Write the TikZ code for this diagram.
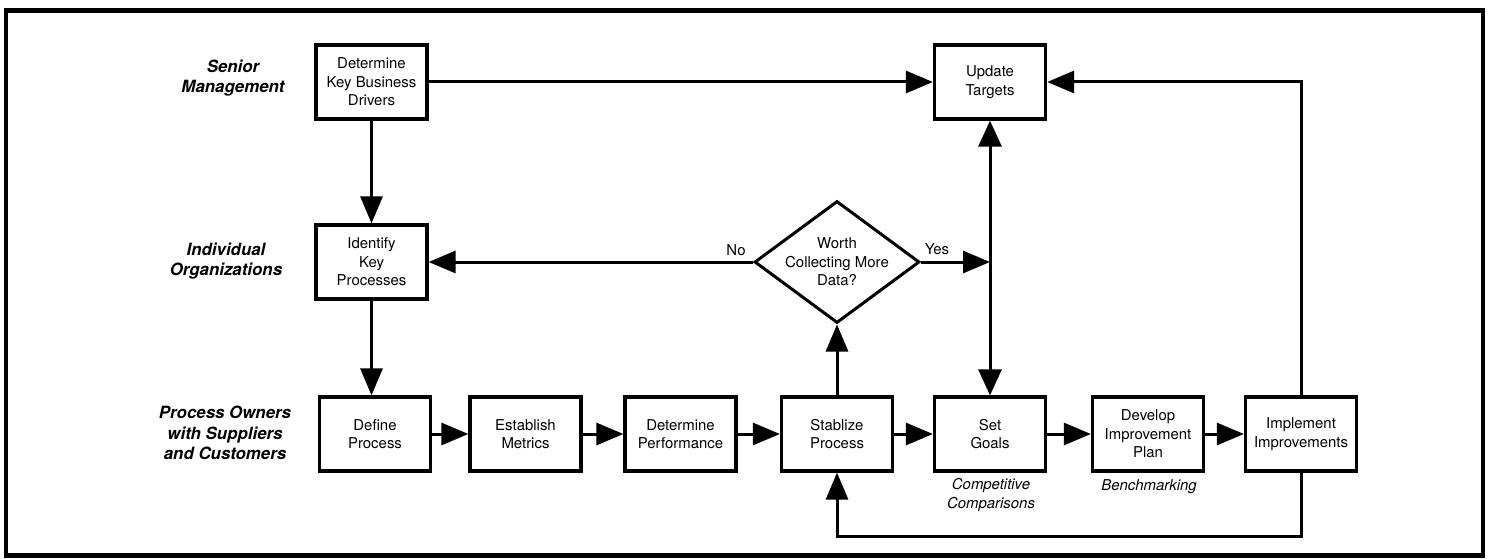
\documentclass[tikz,border=0pt]{standalone}
\usepackage{fontspec}
\setmainfont{TeX Gyre Heros}
\usepackage{tikz}
\usetikzlibrary{arrows.meta}
\usetikzlibrary{shapes.geometric}

\begin{document}
\begin{tikzpicture}[x=0.2mm,y=-0.2mm,
	box/.style={draw,line width=0.65mm,fill=white,minimum width=22.2mm,minimum height=14.8mm,inner sep=1pt,align=center,font=\fontsize{8.5}{10.5}\selectfont},
	decision/.style={diamond,draw,line width=0.6mm,fill=white,minimum width=33mm,minimum height=24.4mm,inner sep=-12pt,align=center,font=\fontsize{8.5}{10.5}\selectfont},
	lane/.style={align=center,font=\fontsize{9.6}{11.6}\selectfont\bfseries\itshape},
	note/.style={align=center,font=\fontsize{8.5}{11}\selectfont\itshape},
	answer/.style={font=\fontsize{8.5}{10.5}\selectfont},
	arr/.style={line width=0.6mm,-{Triangle[length=5.4mm,width=4.4mm]}},
	arrboth/.style={line width=0.6mm,{Triangle[length=5.2mm,width=4.6mm]}-{Triangle[length=5.2mm,width=4.6mm]}}]
		\useasboundingbox (0,0) rectangle (1489,558);
		\draw[line width=0.9mm] (6,10.5) rectangle (1483,555.5);
		\node[lane] (sen) at (233,78) {Senior\\Management};
		\node[lane] (ind) at (226,261) {Individual\\Organizations};
		\node[lane] (own) at (225,433) {Process Owners\\with Suppliers\\and Customers};
		\node[box] (drv) at (371.5,82) {Determine\\Key Business\\Drivers};
		\node[box] (upd) at (990,82) {Update\\Targets};
		\node[box] (idn) at (371.5,262) {Identify\\Key\\Processes};
		\node[decision] (dat) at (837,262) {Worth\\Collecting More\\Data?};
		\node[box] (def) at (375,434) {Define\\Process};
		\node[box] (met) at (525.5,434) {Establish\\Metrics};
		\node[box] (prf) at (680.5,434) {Determine\\Performance};
		\node[box] (stb) at (837,434) {Stablize\\Process};
		\node[box] (gol) at (990,434) {Set\\Goals};
		\node[box] (pln) at (1148,434) {Develop\\Improvement\\Plan};
		\node[box] (imp) at (1301,434) {Implement\\Improvements};
		\node[note] (cmp) at (991,495) {Competitive\\Comparisons};
		\node[note] (bch) at (1149,487) {Benchmarking};
		\node[answer] (no) at (736,250) {No};
		\node[answer] (yes) at (937,249) {Yes};
		\draw[arr] (drv) -- (upd);
		\draw[arr] (drv) -- (idn);
		\draw[arr] (idn.south) -- (idn.south |- def.north);
		\draw[arr] (dat) -- (idn);
		\draw[arr] (dat) -- (dat -| gol);
		\draw[arrboth] (upd) -- (gol);
		\draw[arr] (imp) |- (upd);
		\draw[arr] (stb) -- (dat);
		\draw[arr] (imp.south) -- ++(0,64) -| (stb.south);
		\draw[arr] (def) -- (met);
		\draw[arr] (met) -- (prf);
		\draw[arr] (prf) -- (stb);
		\draw[arr] (stb) -- (gol);
		\draw[arr] (gol) -- (pln);
		\draw[arr] (pln) -- (imp);
	\end{tikzpicture}
\end{document}
